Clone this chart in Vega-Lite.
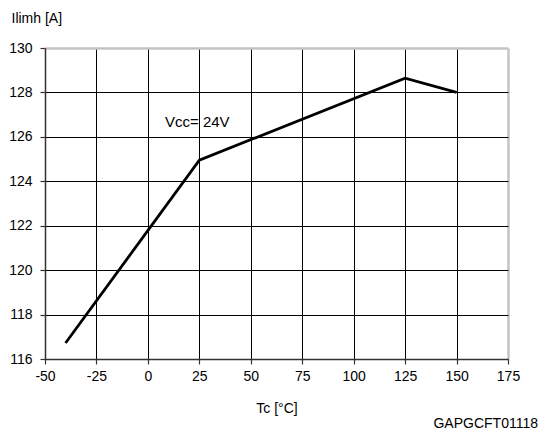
{
  "$schema": "https://vega.github.io/schema/vega-lite/v6.json",
  "width": 463,
  "height": 311,
  "autosize": "none",
  "padding": {"left": 45, "top": 48, "right": 32, "bottom": 75},
  "background": "white",
  "config": {
    "font": "Liberation Sans",
    "view": {"stroke": null},
    "axis": {
      "labelFont": "Liberation Sans",
      "titleFont": "Liberation Sans",
      "labelFontSize": 14,
      "titleFontSize": 14,
      "labelColor": "black",
      "titleColor": "black",
      "titleFontWeight": "normal",
      "domainColor": "#333",
      "domainWidth": 1.5,
      "tickColor": "#333",
      "tickWidth": 1.2,
      "tickSize": 5,
      "gridOpacity": 1
    }
  },
  "title": {
    "text": "GAPGCFT01118",
    "orient": "bottom",
    "anchor": "end",
    "frame": "group",
    "font": "Liberation Sans",
    "fontSize": 14,
    "fontWeight": "normal",
    "color": "black",
    "baseline": "top",
    "offset": 2,
    "dx": 30
  },
  "datasets": {
    "curve": [
      {"tc": -40, "ilimh": 116.72},
      {"tc": 25, "ilimh": 124.95},
      {"tc": 125, "ilimh": 128.64},
      {"tc": 150, "ilimh": 128.0}
    ],
    "note": [{"tc": 8.3, "ilimh": 126.45, "label": "Vcc= 24V"}]
  },
  "layer": [
    {
      "data": {"name": "curve"},
      "mark": {"type": "line", "color": "black", "strokeWidth": 2.8},
      "encoding": {
        "x": {
          "field": "tc",
          "type": "quantitative",
          "scale": {"domain": [-50, 175], "nice": false, "zero": false},
          "axis": {
            "values": [-50, -25, 0, 25, 50, 75, 100, 125, 150, 175],
            "labelExpr": "'' + datum.value",
            "grid": true,
            "gridColor": {"condition": {"test": "datum.value == 175", "value": "#c4c4c4"}, "value": "black"},
            "gridWidth": {"condition": {"test": "datum.value == 175", "value": 2.5}, "value": 1},
            "labelPadding": 5,
            "labelFlush": false,
            "title": "Tc [°C]",
            "titleBaseline": "alphabetic",
            "titleY": 53
          }
        },
        "y": {
          "field": "ilimh",
          "type": "quantitative",
          "scale": {"domain": [116, 130], "nice": false, "zero": false},
          "axis": {
            "values": [116, 118, 120, 122, 124, 126, 128, 130],
            "grid": true,
            "gridColor": {"condition": {"test": "datum.value == 130", "value": "#c4c4c4"}, "value": "black"},
            "gridWidth": {"condition": {"test": "datum.value == 130", "value": 2.5}, "value": 1},
            "labelPadding": 8,
            "labelFlush": false,
            "title": "Ilimh [A]",
            "titleAngle": 0,
            "titleAlign": "left",
            "titleBaseline": "alphabetic",
            "titleX": -34,
            "titleY": -26
          }
        }
      }
    },
    {
      "data": {"name": "note"},
      "mark": {"type": "text", "align": "left", "baseline": "alphabetic", "fontSize": 15, "font": "Liberation Sans", "color": "black"},
      "encoding": {
        "x": {"field": "tc", "type": "quantitative"},
        "y": {"field": "ilimh", "type": "quantitative"},
        "text": {"field": "label"}
      }
    }
  ]
}
